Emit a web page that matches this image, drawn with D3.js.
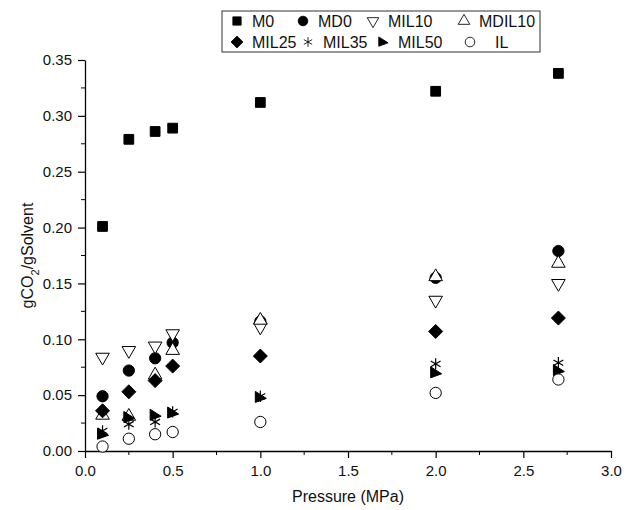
<!DOCTYPE html>
<html>
<head>
<meta charset="utf-8">
<script src="https://cdn.jsdelivr.net/npm/d3@7"></script>
<style>
  body { margin: 0; background: #fff; }
  text { font-family: "Liberation Sans", Arial, sans-serif; fill: #111; }
</style>
</head>
<body>
<div id="main"></div>
<script>
// data
const pressure = [0.1, 0.25, 0.4, 0.5, 1.0, 2.0, 2.7];
const seriesNames = ["M0", "MD0", "MIL10", "MDIL10", "MIL25", "MIL35", "MIL50", "IL"];
const M0     = [0.201, 0.279, 0.286, 0.289, 0.312, 0.322, 0.338];
const MD0    = [0.049, 0.072, 0.083, 0.097, 0.116, 0.155, 0.179];
const MIL10  = [0.084, 0.090, 0.094, 0.105, 0.111, 0.135, 0.150];
const MDIL10 = [0.032, 0.031, 0.068, 0.090, 0.117, 0.156, 0.168];
const MIL25  = [0.036, 0.053, 0.063, 0.076, 0.085, 0.107, 0.119];
const MIL35  = [0.018, 0.024, 0.026, 0.035, 0.049, 0.078, 0.079];
const MIL50  = [0.015, 0.030, 0.032, 0.034, 0.048, 0.070, 0.072];
const IL     = [0.004, 0.011, 0.015, 0.017, 0.026, 0.052, 0.064];
const xTicks = [0, 0.5, 1.0, 1.5, 2.0, 2.5, 3.0];
const yTicks = [0, 0.05, 0.10, 0.15, 0.20, 0.25, 0.30, 0.35];

const width = 627, height = 510;
const padLeft = 85, padRight = 611, padTop = 60, padBottom = 451;

const svg = d3.select('#main').append('svg')
  .attr('width', width).attr('height', height);

const xScale = d3.scaleLinear().domain([0, 3]).range([padLeft, padRight]);
const yScale = d3.scaleLinear().domain([0, 0.35]).range([padBottom, padTop]);

// marker shapes
const sq = d3.symbol().type(d3.symbolSquare).size(95)();
const circ = d3.symbol().type(d3.symbolCircle).size(100)();
const tri = d3.symbol().type(d3.symbolTriangle).size(80)();
const diam = "M0,-7L7,0L0,7L-7,0Z";
const star = d3.symbol().type(d3.symbolAsterisk).size(90)();
const flag = "M-5,-6L6,1L-5,5Z";
const markers = {
  M0:     {d: sq, fill: "#000", rot: 0},
  MD0:    {d: circ, fill: "#000", rot: 0},
  MIL10:  {d: tri, fill: "#fff", rot: 180},
  MDIL10: {d: tri, fill: "#fff", rot: 0},
  MIL25:  {d: diam, fill: "#000", rot: 0},
  MIL35:  {d: star, fill: "none", rot: 0},
  MIL50:  {d: flag, fill: "#000", rot: 0},
  IL:     {d: circ, fill: "#fff", rot: 0}
};
const values = {M0, MD0, MIL10, MDIL10, MIL25, MIL35, MIL50, IL};

// axes
const xAxis = d3.axisBottom(xScale).tickValues(xTicks).tickFormat(d3.format(".1f")).tickSize(7).tickSizeOuter(0);
const yAxis = d3.axisLeft(yScale).tickValues(yTicks).tickFormat(d3.format(".2f")).tickSize(7).tickSizeOuter(0);

const gx = svg.append('g').attr('transform', 'translate(0,' + padBottom + ')').call(xAxis);
gx.append('g').selectAll('line').data(d3.range(0.25, 3, 0.5))
  .enter().append('line')
  .attr('x1', d => xScale(d)).attr('x2', d => xScale(d))
  .attr('y1', 0).attr('y2', 4).attr('stroke', '#000');

const gy = svg.append('g').attr('transform', 'translate(' + padLeft + ',0)').call(yAxis);
gy.append('g').selectAll('line').data(d3.range(0.025, 0.35, 0.05))
  .enter().append('line')
  .attr('y1', d => yScale(d)).attr('y2', d => yScale(d))
  .attr('x1', 0).attr('x2', -4).attr('stroke', '#000');

svg.selectAll('.domain').attr('stroke', '#000').attr('stroke-width', 1.3);
svg.selectAll('.tick line').attr('stroke', '#000').attr('stroke-width', 1.2);
svg.selectAll('.tick text').style('font-size', '15px').style('font-family', '"Liberation Sans", Arial, sans-serif').attr('fill', '#111');
gx.selectAll('.tick text').attr('dy', '1.0em');
gy.selectAll('.tick text').attr('dx', '-0.2em');

// axis titles
svg.append('text')
  .attr('x', (padLeft + padRight) / 2).attr('y', 502)
  .attr('text-anchor', 'middle').style('font-size', '16px')
  .text('Pressure (MPa)');

const yt = svg.append('text')
  .attr('transform', 'translate(33,' + ((padTop + padBottom) / 2) + ') rotate(-90)')
  .attr('text-anchor', 'middle').style('font-size', '16px');
yt.append('tspan').text('gCO');
yt.append('tspan').attr('baseline-shift', 'sub').style('font-size', '11px').text('2');
yt.append('tspan').text('/gSolvent');

// points
seriesNames.forEach(name => {
  const m = markers[name];
  svg.append('g').selectAll('path').data(values[name])
    .enter().append('path')
    .attr('d', m.d)
    .attr('transform', (d, i) => 'translate(' + xScale(pressure[i]) + ',' + yScale(d) + ') rotate(' + m.rot + ')')
    .attr('fill', m.fill)
    .attr('stroke', '#000')
    .attr('stroke-width', name === 'MIL35' ? 1.2 : 1);
});

// legend
const legend = svg.append('g');
legend.append('rect')
  .attr('x', 222).attr('y', 11).attr('width', 318).attr('height', 41)
  .attr('fill', '#fff').attr('stroke', '#333').attr('stroke-width', 1);
const legendPos = [
  [237, 21], [303, 21], [373, 21], [464, 21],
  [237, 42], [308, 42], [383, 42], [470, 42]
];
seriesNames.forEach((name, i) => {
  const m = markers[name];
  const [lx, ly] = legendPos[i];
  legend.append('path').attr('d', m.d)
    .attr('transform', 'translate(' + lx + ',' + ly + ') rotate(' + m.rot + ') scale(0.85)')
    .attr('fill', m.fill).attr('stroke', '#000');
  legend.append('text')
    .attr('x', lx + (i === 7 ? 25 : 15)).attr('y', ly + 6)
    .style('font-size', '16px').text(name);
});
</script>
</body>
</html>
